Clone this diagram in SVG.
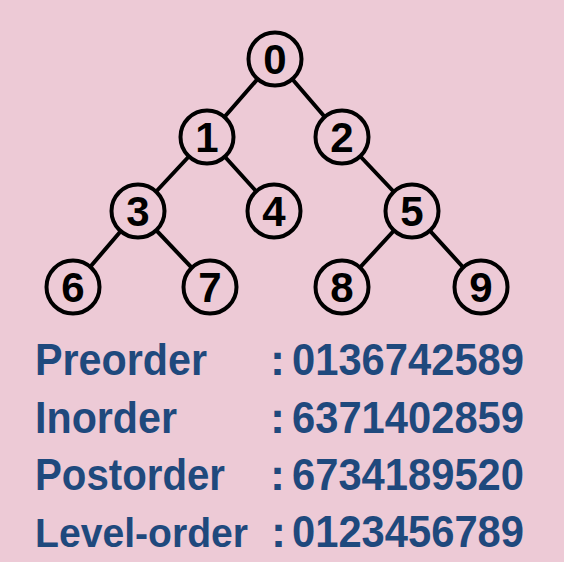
<svg xmlns="http://www.w3.org/2000/svg" width="564" height="562" viewBox="0 0 564 562">
<style>
.bg{fill:#EDCAD6}
.edge{stroke:#000;stroke-width:4;stroke-linecap:round}
.node circle{fill:#EDCAD6;stroke:#000;stroke-width:4}
.node text{font-family:"Liberation Sans",Arial,sans-serif;font-weight:bold;font-size:42px;fill:#000;text-anchor:middle}
.lbl{font-family:"Liberation Sans",Arial,sans-serif;font-weight:bold;font-size:45px;fill:#1F497D}
</style>
<rect class="bg" x="0" y="0" width="564" height="562"/>
<g id="connectors">
<line class="edge" x1="275" y1="59" x2="207" y2="137"/>
<line class="edge" x1="275" y1="59" x2="342" y2="137"/>
<line class="edge" x1="207" y1="137" x2="138" y2="211"/>
<line class="edge" x1="207" y1="137" x2="274" y2="211"/>
<line class="edge" x1="342" y1="137" x2="412" y2="211"/>
<line class="edge" x1="138" y1="211" x2="73" y2="287"/>
<line class="edge" x1="138" y1="211" x2="210" y2="287"/>
<line class="edge" x1="412" y1="211" x2="342" y2="287"/>
<line class="edge" x1="412" y1="211" x2="481" y2="287"/>
</g>
<g id="node0" class="node"><circle cx="275" cy="59" r="26.5"/><text x="275" y="74">0</text></g>
<g id="node1" class="node"><circle cx="207" cy="137" r="26.5"/><text x="207" y="152">1</text></g>
<g id="node2" class="node"><circle cx="342" cy="137" r="26.5"/><text x="342" y="152">2</text></g>
<g id="node3" class="node"><circle cx="138" cy="211" r="26.5"/><text x="138" y="226">3</text></g>
<g id="node4" class="node"><circle cx="274" cy="211" r="26.5"/><text x="274" y="226">4</text></g>
<g id="node5" class="node"><circle cx="412" cy="211" r="26.5"/><text x="412" y="226">5</text></g>
<g id="node6" class="node"><circle cx="73" cy="287" r="26.5"/><text x="73" y="302">6</text></g>
<g id="node7" class="node"><circle cx="210" cy="287" r="26.5"/><text x="210" y="302">7</text></g>
<g id="node8" class="node"><circle cx="342" cy="287" r="26.5"/><text x="342" y="302">8</text></g>
<g id="node9" class="node"><circle cx="481" cy="287" r="26.5"/><text x="481" y="302">9</text></g>
<g id="labels">
<text class="lbl" x="35" y="375" textLength="172" lengthAdjust="spacingAndGlyphs">Preorder</text>
<text class="lbl" y="375"><tspan x="270">:</tspan><tspan x="292" textLength="232" lengthAdjust="spacingAndGlyphs">0136742589</tspan></text>
<text class="lbl" x="35" y="433" textLength="142" lengthAdjust="spacingAndGlyphs">Inorder</text>
<text class="lbl" y="433"><tspan x="270">:</tspan><tspan x="292" textLength="232" lengthAdjust="spacingAndGlyphs">6371402859</tspan></text>
<text class="lbl" x="35" y="490" textLength="190" lengthAdjust="spacingAndGlyphs">Postorder</text>
<text class="lbl" y="490"><tspan x="270">:</tspan><tspan x="292" textLength="232" lengthAdjust="spacingAndGlyphs">6734189520</tspan></text>
<text class="lbl" x="35" y="547" style="font-size:41px" textLength="213" lengthAdjust="spacingAndGlyphs">Level-order</text>
<text class="lbl" y="547"><tspan x="271">:</tspan><tspan x="292" textLength="232" lengthAdjust="spacingAndGlyphs">0123456789</tspan></text>
</g>
</svg>
